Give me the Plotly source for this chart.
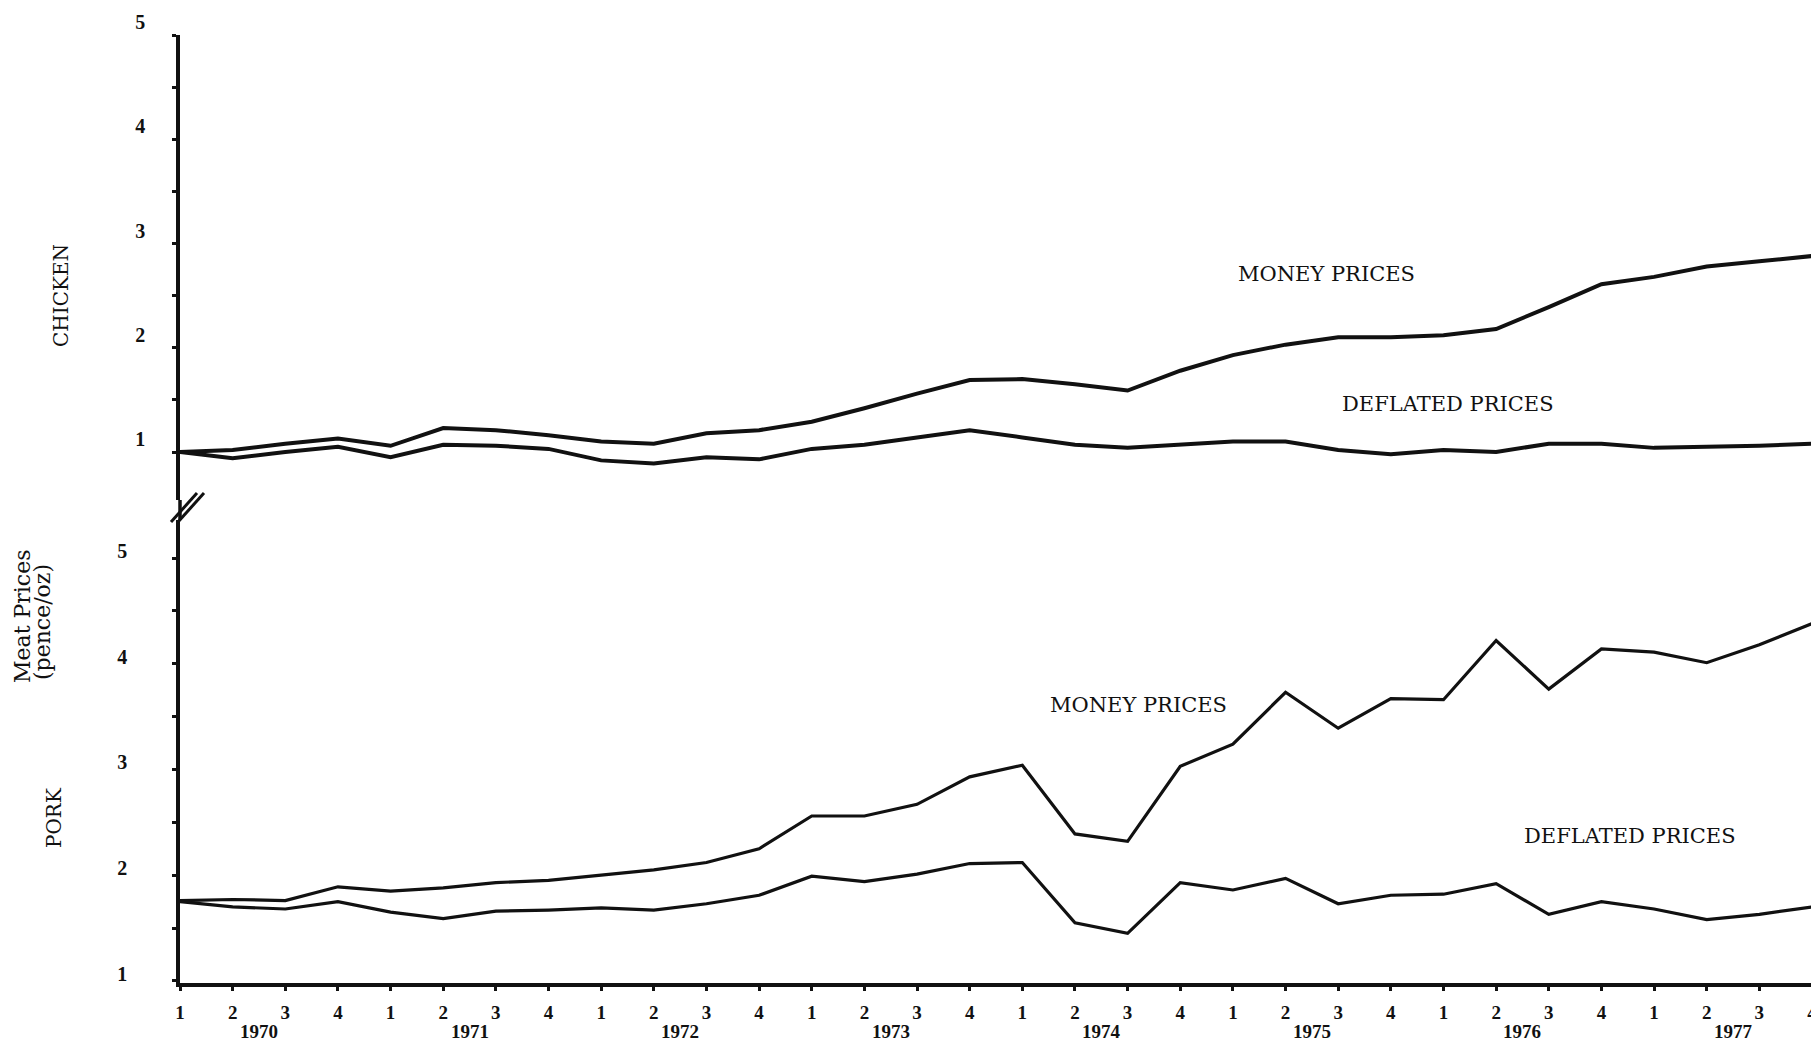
import plotly.graph_objects as go

# ---- data ----
quarters = ["1", "2", "3", "4"] * 8
years = ["1970", "1971", "1972", "1973", "1974", "1975", "1976", "1977"]

chicken_money = [1.00, 1.02, 1.08, 1.13, 1.06, 1.23, 1.21, 1.16, 1.10, 1.08, 1.18, 1.21,
                 1.29, 1.42, 1.56, 1.69, 1.70, 1.65, 1.59, 1.78, 1.93, 2.03, 2.10, 2.10,
                 2.12, 2.18, 2.39, 2.61, 2.68, 2.78, 2.83, 2.88]
chicken_deflated = [1.00, 0.94, 1.00, 1.05, 0.95, 1.07, 1.06, 1.03, 0.92, 0.89, 0.95, 0.93,
                    1.03, 1.07, 1.14, 1.21, 1.14, 1.07, 1.04, 1.07, 1.10, 1.10, 1.02, 0.98,
                    1.02, 1.00, 1.08, 1.08, 1.04, 1.05, 1.06, 1.08]
pork_money = [1.76, 1.77, 1.76, 1.89, 1.85, 1.88, 1.93, 1.95, 2.00, 2.05, 2.12, 2.25,
              2.56, 2.56, 2.67, 2.93, 3.04, 2.39, 2.32, 3.03, 3.24, 3.73, 3.39, 3.67,
              3.66, 4.22, 3.76, 4.14, 4.11, 4.01, 4.18, 4.38]
pork_deflated = [1.75, 1.70, 1.68, 1.75, 1.65, 1.59, 1.66, 1.67, 1.69, 1.67, 1.73, 1.81,
                 1.99, 1.94, 2.01, 2.11, 2.12, 1.55, 1.45, 1.93, 1.86, 1.97, 1.73, 1.81,
                 1.82, 1.92, 1.63, 1.75, 1.68, 1.58, 1.63, 1.70]
y_ticks = [1, 2, 3, 4, 5]

idx = list(range(len(quarters)))
INK = "#111111"
SERIF = "Liberation Serif, DejaVu Serif, serif"
WIDE_SERIF = "DejaVu Serif, serif"

fig = go.Figure()
fig.add_trace(go.Scatter(x=idx, y=chicken_money, mode="lines", yaxis="y2",
                         line=dict(color=INK, width=4), name="Chicken money prices"))
fig.add_trace(go.Scatter(x=idx, y=chicken_deflated, mode="lines", yaxis="y2",
                         line=dict(color=INK, width=4), name="Chicken deflated prices"))
fig.add_trace(go.Scatter(x=idx, y=pork_money, mode="lines", yaxis="y",
                         line=dict(color=INK, width=3.2), name="Pork money prices"))
fig.add_trace(go.Scatter(x=idx, y=pork_deflated, mode="lines", yaxis="y",
                         line=dict(color=INK, width=3.2), name="Pork deflated prices"))

# The page body adds an 8 px margin, so the figure is laid out 8 px smaller.
PAGE_W, PAGE_H, OFF = 1819, 1053, 8
W, H = PAGE_W - OFF, PAGE_H - OFF
AX_LEFT, AX_RIGHT, AX_TOP, AX_BOTTOM = 180, 1812, 35, 983   # page pixels
L, T = AX_LEFT - OFF, AX_TOP - OFF
R = W - (AX_RIGHT - OFF)
B = H - (AX_BOTTOM - OFF)
plot_w = AX_RIGHT - AX_LEFT
plot_h = AX_BOTTOM - AX_TOP


def px_x(p):
    return (p - AX_LEFT) / plot_w


def px_y(p):
    return (AX_BOTTOM - p) / plot_h


bot_top = px_y(520)
top_bot = px_y(500)

tickfont = dict(family=SERIF, size=19, color=INK, weight="bold")
ytickfont = dict(family=SERIF, size=20, color=INK, weight="bold")

fig.update_layout(
    width=W, height=H,
    margin=dict(l=L, r=R, t=T, b=B, autoexpand=False),
    paper_bgcolor="white", plot_bgcolor="white",
    showlegend=False,
    xaxis=dict(range=[0, 31], tickvals=idx, ticktext=quarters, anchor="y", automargin=False,
               showgrid=False, zeroline=False, showline=True, linecolor=INK, linewidth=4,
               ticks="outside", ticklen=4, tickwidth=3, tickcolor=INK,
               tickfont=tickfont, ticklabelstandoff=5),
    yaxis=dict(domain=[0, bot_top], range=[0.98, 5.36], tickvals=y_ticks, automargin=False,
               anchor="x", showgrid=False, zeroline=False, showline=True,
               linecolor=INK, linewidth=3.5, ticks="", tickfont=ytickfont,
               ticklabelstandoff=45, ticklabelshift=-7,
               minor=dict(dtick=0.5, ticks="outside", ticklen=4, tickwidth=3, tickcolor=INK)),
    yaxis2=dict(domain=[top_bot, 1], range=[0.54, 5.0], tickvals=y_ticks, automargin=False,
                anchor="x", showgrid=False, zeroline=False, showline=True,
                linecolor=INK, linewidth=3.5, ticks="", tickfont=ytickfont,
                ticklabelstandoff=27, ticklabelshift=-13,
                minor=dict(dtick=0.5, ticks="outside", ticklen=4, tickwidth=3, tickcolor=INK)),
)

# bridge the axis across the break and draw the break marks
fig.add_shape(type="line", xref="paper", yref="paper", x0=0, x1=0, y0=bot_top, y1=top_bot,
              line=dict(color=INK, width=3.5))
for dx in (0, 7):
    fig.add_shape(type="line", xref="paper", yref="paper",
                  x0=px_x(171 + dx), y0=px_y(522), x1=px_x(197 + dx), y1=px_y(493),
                  line=dict(color=INK, width=3))

# year labels under the quarter ticks
for k, yr in enumerate(years):
    fig.add_annotation(x=4 * k + 1.5, y=px_y(1031), xref="x", yref="paper",
                       xanchor="center", yanchor="middle",
                       text=yr, showarrow=False, font=tickfont)

# series labels
label_font = dict(family=WIDE_SERIF, size=21, color=INK)
for xv, yv, yref, txt in [(21.77, 2.71, "y2", "MONEY PRICES"),
                          (24.08, 1.46, "y2", "DEFLATED PRICES"),
                          (18.2, 3.61, "y", "MONEY PRICES"),
                          (27.54, 2.37, "y", "DEFLATED PRICES")]:
    fig.add_annotation(x=xv, y=yv, xref="x", yref=yref, text=txt,
                       xanchor="center", yanchor="middle",
                       showarrow=False, font=label_font)

# axis titles
title_font = dict(family=WIDE_SERIF, size=20, color=INK)
big_font = dict(family=WIDE_SERIF, size=22, color=INK)
for xp, yp, txt, fnt in [(61, 295, "CHICKEN", title_font),
                         (22, 617, "Meat Prices", big_font),
                         (42, 622, "(pence/oz)", big_font),
                         (54, 818, "PORK", title_font)]:
    fig.add_annotation(x=px_x(xp), y=px_y(yp), xref="paper", yref="paper", text=txt,
                       xanchor="center", yanchor="middle",
                       textangle=-90, showarrow=False, font=fnt)

fig.write_html("out.html")
